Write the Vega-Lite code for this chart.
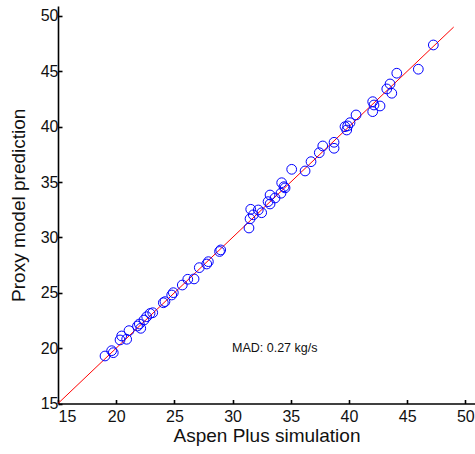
{
  "$schema": "https://vega.github.io/schema/vega-lite/v6.json",
  "width": 417,
  "height": 397.5,
  "autosize": {"type": "none"},
  "padding": {"left": 58, "top": 6, "right": 0, "bottom": 50.5},
  "background": "white",
  "config": {
    "font": "Liberation Sans",
    "view": {"stroke": null},
    "axis": {
      "grid": false,
      "domainColor": "black",
      "domainWidth": 1.6,
      "tickColor": "black",
      "tickWidth": 1.6,
      "tickSize": -4,
      "labelFont": "Liberation Sans",
      "labelFontSize": 16,
      "labelColor": "#111",
      "titleFont": "Liberation Sans",
      "titleFontSize": 19,
      "titleFontWeight": "normal",
      "titleColor": "#111"
    }
  },
  "datasets": {
    "pts": [
      {"sim": 47.25, "pred": 47.38}, {"sim": 45.96, "pred": 45.19}, {"sim": 44.11, "pred": 44.83},
      {"sim": 43.53, "pred": 43.86}, {"sim": 43.25, "pred": 43.41}, {"sim": 43.68, "pred": 43.02},
      {"sim": 42.04, "pred": 42.26}, {"sim": 42.15, "pred": 41.96}, {"sim": 42.67, "pred": 41.87},
      {"sim": 42.04, "pred": 41.36}, {"sim": 40.61, "pred": 41.06}, {"sim": 40.09, "pred": 40.36},
      {"sim": 39.89, "pred": 40.07}, {"sim": 39.66, "pred": 40.0}, {"sim": 39.81, "pred": 39.7},
      {"sim": 38.72, "pred": 38.59}, {"sim": 38.72, "pred": 38.05}, {"sim": 37.75, "pred": 38.26},
      {"sim": 37.45, "pred": 37.65}, {"sim": 36.74, "pred": 36.84}, {"sim": 36.23, "pred": 36.0},
      {"sim": 35.08, "pred": 36.15}, {"sim": 34.22, "pred": 34.94}, {"sim": 34.42, "pred": 34.58},
      {"sim": 34.51, "pred": 34.47}, {"sim": 34.16, "pred": 33.99}, {"sim": 33.22, "pred": 33.83},
      {"sim": 33.65, "pred": 33.56}, {"sim": 33.05, "pred": 33.23}, {"sim": 33.22, "pred": 33.02},
      {"sim": 32.5, "pred": 32.23}, {"sim": 32.21, "pred": 32.48}, {"sim": 31.56, "pred": 32.54},
      {"sim": 31.78, "pred": 32.04}, {"sim": 31.5, "pred": 31.68}, {"sim": 31.41, "pred": 30.85},
      {"sim": 28.98, "pred": 28.87}, {"sim": 28.88, "pred": 28.73}, {"sim": 27.92, "pred": 27.81},
      {"sim": 27.78, "pred": 27.6}, {"sim": 27.14, "pred": 27.27}, {"sim": 26.69, "pred": 26.25},
      {"sim": 26.15, "pred": 26.22}, {"sim": 25.68, "pred": 25.7}, {"sim": 24.91, "pred": 25.01},
      {"sim": 24.77, "pred": 24.8}, {"sim": 24.19, "pred": 24.2}, {"sim": 24.05, "pred": 24.1},
      {"sim": 23.14, "pred": 23.2}, {"sim": 22.91, "pred": 23.13}, {"sim": 22.62, "pred": 22.84},
      {"sim": 22.39, "pred": 22.54}, {"sim": 21.99, "pred": 22.18}, {"sim": 22.11, "pred": 21.79},
      {"sim": 21.83, "pred": 22.0}, {"sim": 21.1, "pred": 21.58}, {"sim": 20.9, "pred": 20.8},
      {"sim": 20.47, "pred": 21.1}, {"sim": 20.33, "pred": 20.74}, {"sim": 19.61, "pred": 19.77},
      {"sim": 19.75, "pred": 19.59}, {"sim": 19.04, "pred": 19.29}
    ],
    "line": [{"sim": 15, "pred": 15}, {"sim": 49, "pred": 49}],
    "note": [{"sim": 29.95, "pred": 20.0, "label": "MAD: 0.27 kg/s"}]
  },
  "layer": [
    {
      "data": {"name": "line"},
      "mark": {"type": "line", "color": "#ff0000", "strokeWidth": 1, "clip": true},
      "encoding": {
        "x": {
          "field": "sim", "type": "quantitative",
          "scale": {"domain": [15, 50.83], "nice": false, "zero": false},
          "axis": {"title": "Aspen Plus simulation", "values": [15, 20, 25, 30, 35, 40, 45, 50], "labelPadding": 9, "titlePadding": 2}
        },
        "y": {
          "field": "pred", "type": "quantitative",
          "scale": {"domain": [15, 50.9], "nice": false, "zero": false},
          "axis": {"title": "Proxy model prediction", "values": [15, 20, 25, 30, 35, 40, 45, 50], "labelPadding": 4, "titlePadding": 12}
        }
      }
    },
    {
      "data": {"name": "pts"},
      "mark": {"type": "point", "shape": "circle", "filled": false, "stroke": "#0000ff", "strokeWidth": 1, "size": 95, "opacity": 1},
      "encoding": {
        "x": {"field": "sim", "type": "quantitative"},
        "y": {"field": "pred", "type": "quantitative"}
      }
    },
    {
      "data": {"name": "note"},
      "mark": {"type": "text", "align": "left", "baseline": "middle", "fontSize": 12.5, "color": "#111"},
      "encoding": {
        "x": {"field": "sim", "type": "quantitative"},
        "y": {"field": "pred", "type": "quantitative"},
        "text": {"field": "label"}
      }
    }
  ]
}
